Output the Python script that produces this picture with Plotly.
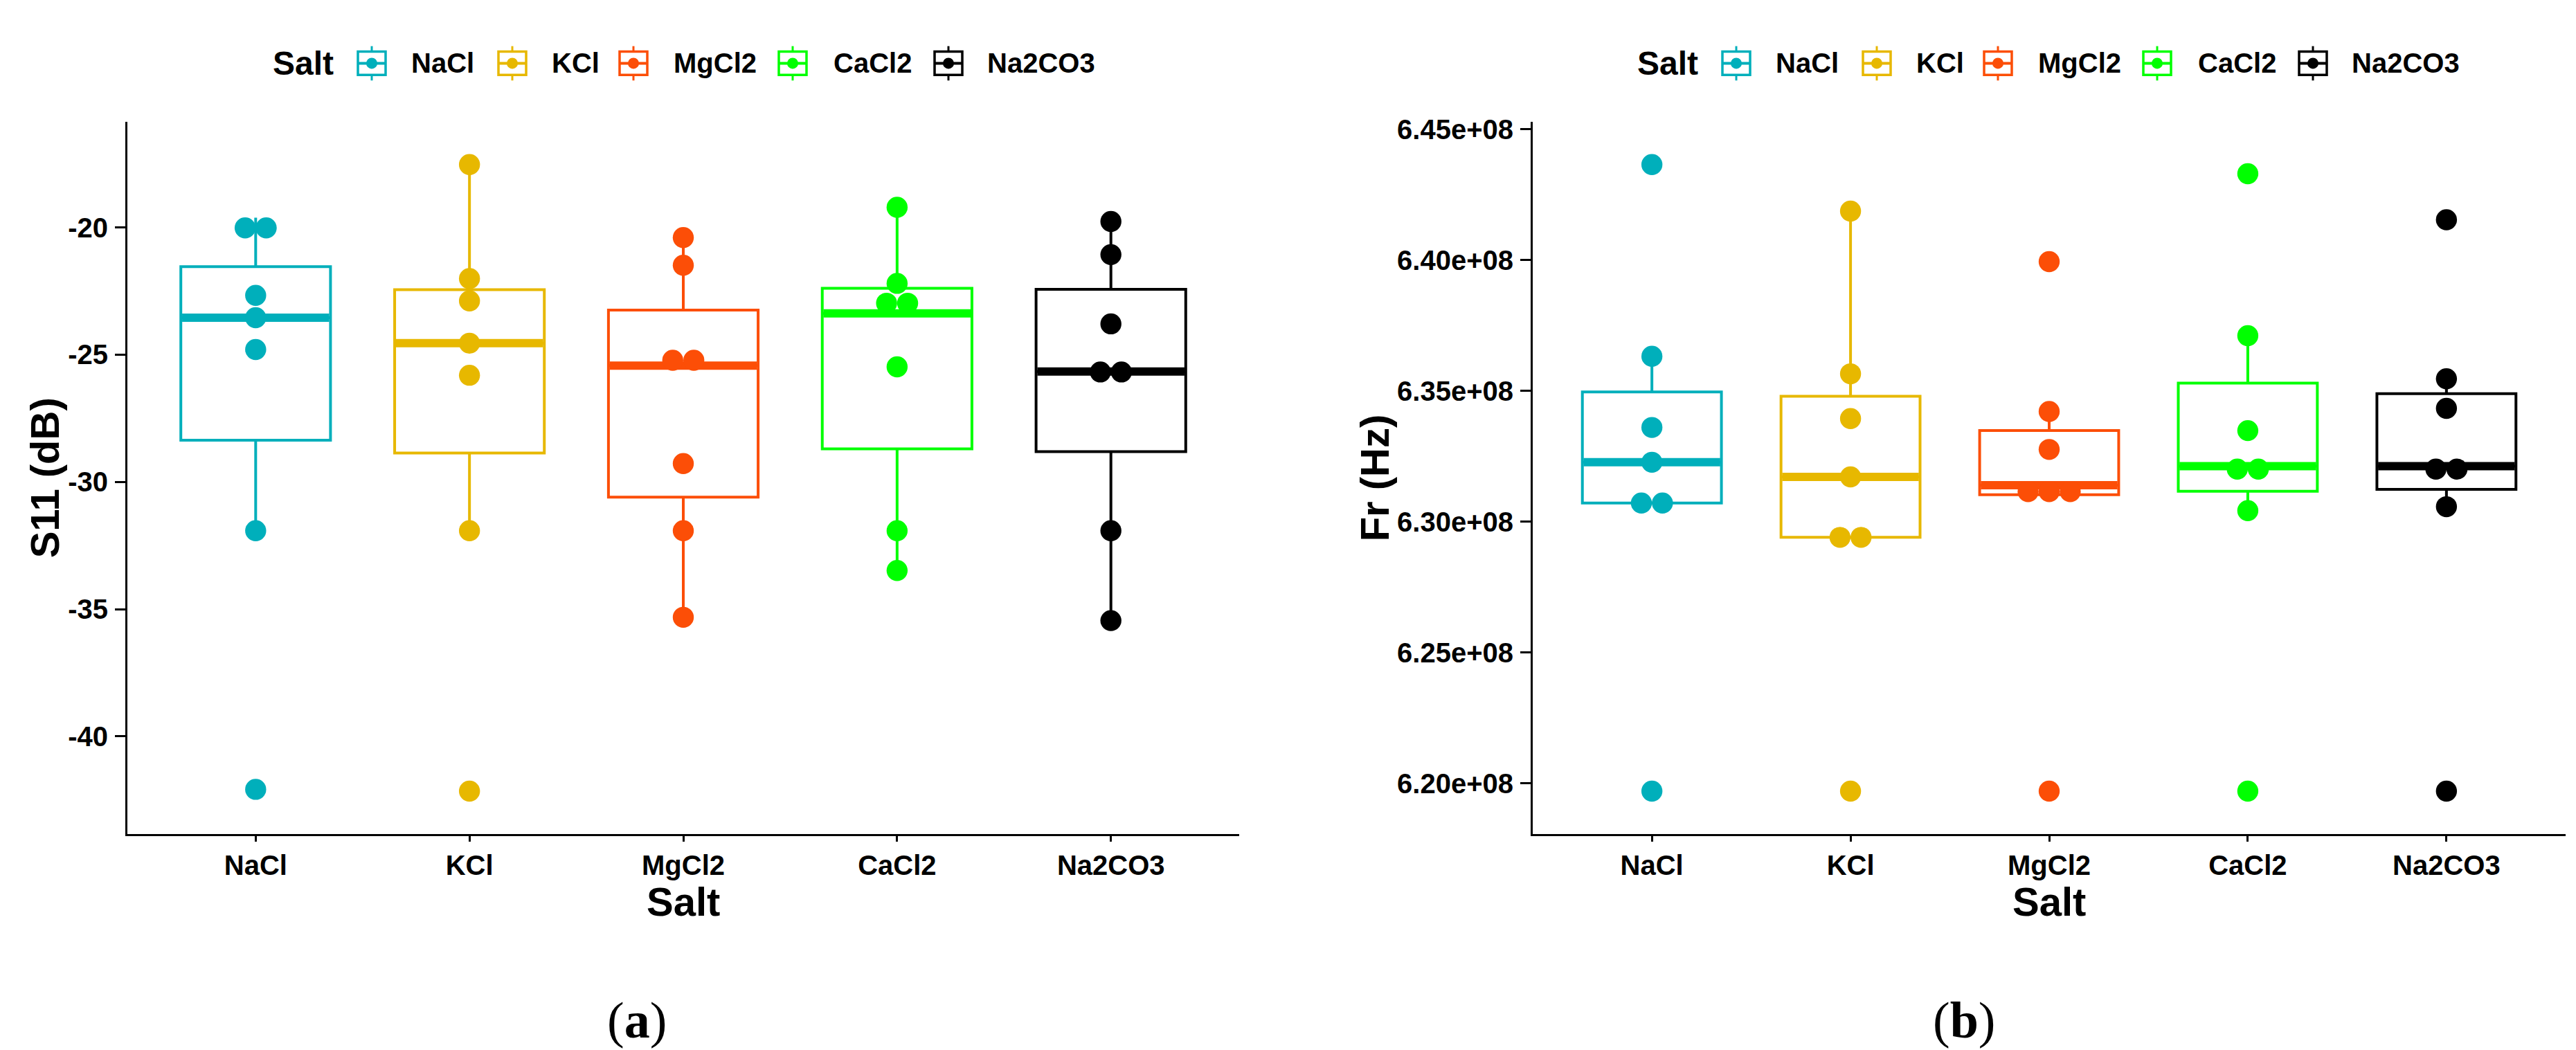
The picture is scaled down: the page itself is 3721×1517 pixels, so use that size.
import numpy as np
import plotly.graph_objects as go

# ---------------- data ----------------
salts = ["NaCl", "KCl", "MgCl2", "CaCl2", "Na2CO3"]
colors = ["#00AFBB", "#E7B800", "#FC4E07", "#00FF00", "#000000"]

s11_nacl = [-42.08, -31.92, -24.80, -23.55, -22.67, -20.42, -19.62]
s11_kcl = [-42.15, -31.92, -25.81, -24.55, -22.89, -22.01, -17.53]
s11_mgcl2 = [-35.32, -31.92, -29.28, -25.43, -25.01, -21.49, -20.40]
s11_cacl2 = [-33.48, -31.92, -25.48, -23.38, -22.58, -22.20, -19.21]
s11_na2co3 = [-35.45, -31.92, -25.70, -25.66, -23.79, -21.07, -19.77]

fr_nacl = [6.1970e8, 6.3071e8, 6.3071e8, 6.3227e8, 6.3360e8, 6.3632e8, 6.4365e8]
fr_kcl = [6.1970e8, 6.2940e8, 6.2940e8, 6.3171e8, 6.3394e8, 6.3565e8, 6.4187e8]
fr_mgcl2 = [6.1970e8, 6.3091e8, 6.3115e8, 6.3139e8, 6.3276e8, 6.3421e8, 6.3994e8]
fr_cacl2 = [6.1970e8, 6.3042e8, 6.3190e8, 6.3212e8, 6.3348e8, 6.3711e8, 6.4330e8]
fr_na2co3 = [6.1970e8, 6.3057e8, 6.3190e8, 6.3212e8, 6.3433e8, 6.3546e8, 6.4154e8]

s11_tickvals = [-40, -35, -30, -25, -20]
s11_ticktext = ["-40", "-35", "-30", "-25", "-20"]
fr_tickvals = [6.20e8, 6.25e8, 6.30e8, 6.35e8, 6.40e8, 6.45e8]
fr_ticktext = ["6.20e+08", "6.25e+08", "6.30e+08", "6.35e+08", "6.40e+08", "6.45e+08"]

x_title = "Salt"
y_titles = ["S11 (dB)", "Fr (Hz)"]
legend_title = "Salt"
panel_labels = ["a", "b"]

s11_groups = [s11_nacl, s11_kcl, s11_mgcl2, s11_cacl2, s11_na2co3]
fr_groups = [fr_nacl, fr_kcl, fr_mgcl2, fr_cacl2, fr_na2co3]

# ---------------- layout geometry (pixels) ----------------
W, H = 3721, 1517
PANEL_Y = (158, 1194.5)
PANELS = [(176, 1782), (2206, 3698)]
YTITLE_X = [56, 1977]
XTITLE_Y = 1293
CAPTION_X = [912, 2829]
CAPTION_Y = 1466
FONT = "Liberation Sans, Arial, sans-serif"
SERIF = "Liberation Serif, Times New Roman, serif"
BOX_W = 0.7
X_RANGE = [-0.6, len(salts) - 0.4]


def px_x(p):
    return p / W


def px_y(p):
    return 1 - p / H


def dot_bins(vals, bw):
    """ggplot2 'dotdensity' binning: returns (stack offset index, bin center)."""
    v = sorted(vals)
    bins, end = [], -np.inf
    for x in v:
        if x >= end:
            bins.append([x])
            end = x + bw
        else:
            bins[-1].append(x)
    out = []
    for b in bins:
        c = (min(b) + max(b)) / 2
        k = len(b)
        for j in range(k):
            out.append((j - (k - 1) / 2, c))
    return out


fig = go.Figure()
layout_axes = {}
annotations, shapes = [], []
panel_specs = [
    (s11_groups, s11_tickvals, s11_ticktext),
    (fr_groups, fr_tickvals, fr_ticktext),
]

for p, (groups, tvals, ttext) in enumerate(panel_specs):
    xa = "x" if p == 0 else "x2"
    ya = "y" if p == 0 else "y2"
    allv = np.concatenate([np.asarray(g, float) for g in groups])
    lo, hi = allv.min(), allv.max()
    bw = (hi - lo) / 30.0
    lo2, hi2 = lo - bw / 2, hi + bw / 2
    pad = 0.05 * (hi2 - lo2)
    yr = [lo2 - pad, hi2 + pad]

    x0, x1 = PANELS[p]
    plot_w = x1 - x0
    plot_h = PANEL_Y[1] - PANEL_Y[0]
    diam_px = bw * plot_h / (yr[1] - yr[0])
    diam_x = diam_px / (plot_w / (X_RANGE[1] - X_RANGE[0]))

    for i, (vals, col) in enumerate(zip(groups, colors)):
        fig.add_trace(go.Box(
            x=[i] * len(vals), y=vals, xaxis=xa, yaxis=ya,
            width=BOX_W, boxpoints="outliers", quartilemethod="inclusive",
            marker=dict(opacity=0, size=1),
            line=dict(color=col, width=4), fillcolor="white",
            whiskerwidth=0, showlegend=False, hoverinfo="skip", name=salts[i],
        ))
        med = float(np.median(vals))
        fig.add_trace(go.Scatter(
            x=[i - BOX_W / 2 + 0.006, i + BOX_W / 2 - 0.006], y=[med, med],
            xaxis=xa, yaxis=ya, mode="lines",
            line=dict(color=col, width=12), showlegend=False, hoverinfo="skip",
        ))
    for i, (vals, col) in enumerate(zip(groups, colors)):
        pts = dot_bins(vals, bw)
        fig.add_trace(go.Scatter(
            x=[i + o * diam_x for o, _ in pts], y=[c for _, c in pts],
            xaxis=xa, yaxis=ya, mode="markers",
            marker=dict(color=col, size=diam_px, line=dict(width=0)),
            showlegend=False, name=salts[i],
        ))

    axis_common = dict(
        showline=True, linecolor="black", linewidth=3,
        ticks="outside", tickwidth=3, tickcolor="black",
        showgrid=False, zeroline=False,
        tickfont=dict(family=FONT, size=40, color="black", weight="bold"),
    )
    layout_axes["xaxis" if p == 0 else "xaxis2"] = dict(
        axis_common, domain=[px_x(x0), px_x(x1)], anchor=ya, ticklen=8,
        range=X_RANGE, tickvals=list(range(len(salts))), ticktext=salts,
    )
    layout_axes["yaxis" if p == 0 else "yaxis2"] = dict(
        axis_common, domain=[px_y(PANEL_Y[1]), px_y(PANEL_Y[0])], anchor=xa, ticklen=15,
        ticklabelstandoff=2,
        range=yr, tickvals=tvals, ticktext=ttext,
    )

    # axis titles (placed at measured positions)
    annotations.append(dict(
        x=px_x((x0 + x1) / 2), y=px_y(XTITLE_Y), xref="paper", yref="paper",
        text=x_title, showarrow=False, xanchor="center", yanchor="middle",
        font=dict(family=FONT, size=58, color="black", weight="bold"),
    ))
    annotations.append(dict(
        x=px_x(YTITLE_X[p]), y=px_y((PANEL_Y[0] + PANEL_Y[1]) / 2), xref="paper", yref="paper",
        text=y_titles[p], textangle=-90, showarrow=False, xanchor="center", yanchor="middle",
        font=dict(family=FONT, size=58, color="black", weight="bold"),
    ))

# ---------------- custom legends (ggplot-style boxplot keys) ----------------
LEG_Y = 73
legend_starts = [384, 2355]
icon_offsets = [145, 348, 523, 753, 978]
label_offsets = [200, 403, 579, 810, 1032]
for start in legend_starts:
    annotations.append(dict(
        x=px_x(start), y=px_y(LEG_Y), xref="paper", yref="paper",
        text=legend_title, showarrow=False, xanchor="left", yanchor="middle",
        font=dict(family=FONT, size=48, color="black", weight="bold"),
    ))
    for k, (salt, col) in enumerate(zip(salts, colors)):
        cx = start + icon_offsets[k]
        shapes.append(dict(type="line", xref="paper", yref="paper",
                           x0=px_x(cx), x1=px_x(cx), y0=px_y(LEG_Y - 25), y1=px_y(LEG_Y + 25),
                           line=dict(color=col, width=3)))
        shapes.append(dict(type="rect", xref="paper", yref="paper",
                           x0=px_x(cx - 20), x1=px_x(cx + 20), y0=px_y(LEG_Y + 17), y1=px_y(LEG_Y - 17),
                           line=dict(color=col, width=3.5), fillcolor="white"))
        shapes.append(dict(type="line", xref="paper", yref="paper",
                           x0=px_x(cx - 20), x1=px_x(cx + 20), y0=px_y(LEG_Y), y1=px_y(LEG_Y),
                           line=dict(color=col, width=4)))
        shapes.append(dict(type="circle", xref="paper", yref="paper",
                           x0=px_x(cx - 8), x1=px_x(cx + 8), y0=px_y(LEG_Y + 8), y1=px_y(LEG_Y - 8),
                           line=dict(color=col, width=0), fillcolor=col))
        annotations.append(dict(
            x=px_x(start + label_offsets[k]), y=px_y(LEG_Y), xref="paper", yref="paper",
            text=salt, showarrow=False, xanchor="left", yanchor="middle",
            font=dict(family=FONT, size=40, color="black", weight="bold"),
        ))

# panel captions
for lab, cx in zip(panel_labels, CAPTION_X):
    annotations.append(dict(
        x=px_x(cx), y=px_y(CAPTION_Y), xref="paper", yref="paper", text="(<b>%s</b>)" % lab,
        showarrow=False, xanchor="center", yanchor="middle",
        font=dict(family=SERIF, size=74, color="black"),
    ))

fig.update_layout(
    width=W, height=H, margin=dict(l=0, r=0, t=0, b=0, pad=0),
    paper_bgcolor="white", plot_bgcolor="white",
    boxmode="overlay", showlegend=False,
    shapes=shapes, annotations=annotations,
    **layout_axes,
)

fig.write_html("out.html")
